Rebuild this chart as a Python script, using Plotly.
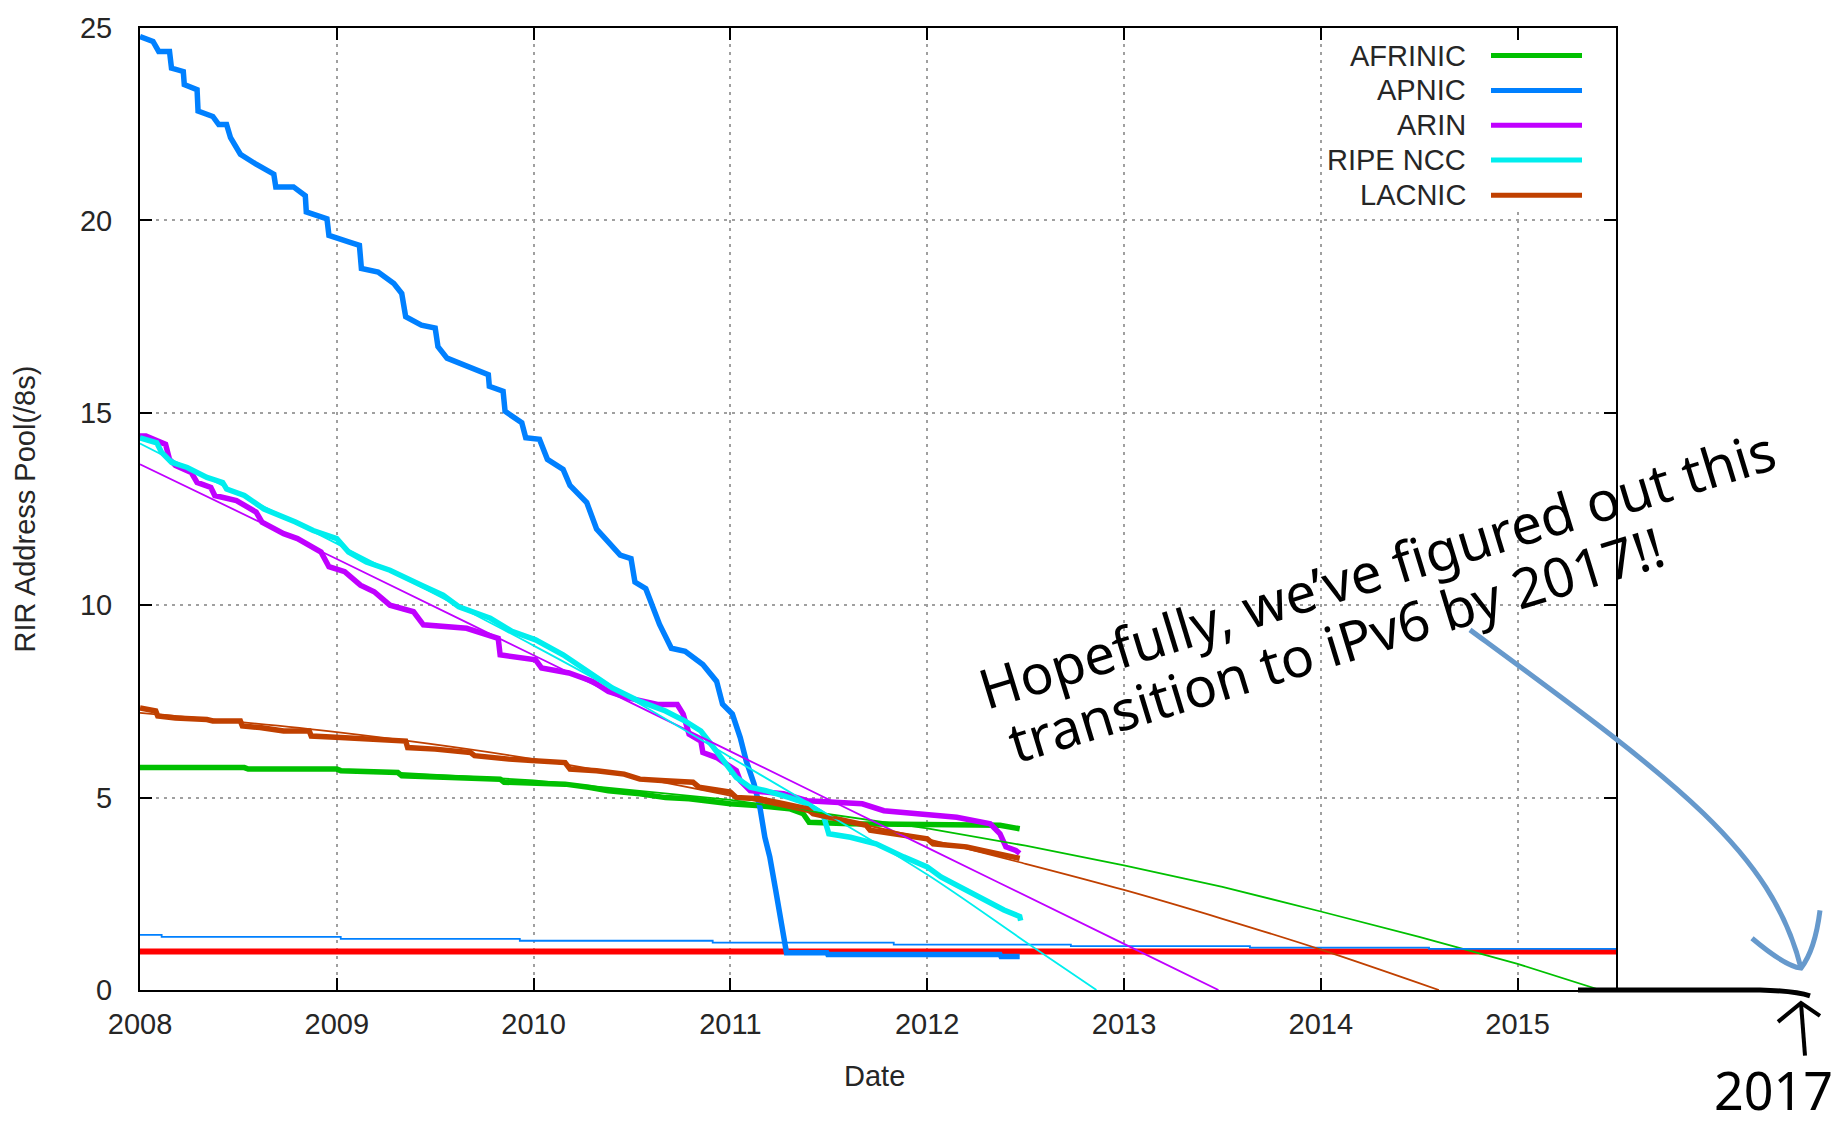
import plotly.graph_objects as go

# ---------------- data ----------------
apnic_years = [2008.0, 2008.066, 2008.095, 2008.15, 2008.16, 2008.22, 2008.225, 2008.29, 2008.295, 2008.37,
               2008.4, 2008.44, 2008.46, 2008.51, 2008.59, 2008.68, 2008.69, 2008.78, 2008.84, 2008.845,
               2008.95, 2008.96, 2009.06, 2009.115, 2009.125, 2009.21, 2009.29, 2009.33, 2009.35, 2009.43,
               2009.5, 2009.514, 2009.56, 2009.64, 2009.77, 2009.775, 2009.845, 2009.855, 2009.94, 2009.96,
               2010.03, 2010.07, 2010.15, 2010.185, 2010.27, 2010.32, 2010.38, 2010.44, 2010.495, 2010.515,
               2010.57, 2010.61, 2010.64, 2010.70, 2010.77, 2010.86, 2010.93, 2010.96, 2011.01, 2011.05,
               2011.08, 2011.12, 2011.15, 2011.175, 2011.2, 2011.23, 2011.26, 2011.28, 2011.285, 2011.49,
               2011.495, 2012.37, 2012.375, 2012.47]
apnic_vals = [24.78, 24.65, 24.39, 24.39, 23.96, 23.87, 23.53, 23.4, 22.84, 22.7,
              22.49, 22.49, 22.15, 21.72, 21.46, 21.2, 20.87, 20.87, 20.64, 20.22,
              20.04, 19.61, 19.44, 19.35, 18.75, 18.66, 18.36, 18.1, 17.5, 17.28,
              17.2, 16.72, 16.42, 16.25, 15.99, 15.69, 15.56, 15.04, 14.74, 14.35,
              14.31, 13.79, 13.53, 13.11, 12.67, 11.98, 11.64, 11.3, 11.21, 10.6,
              10.43, 9.92, 9.5, 8.88, 8.8, 8.46, 8.02, 7.43, 7.17, 6.56,
              5.96, 5.36, 4.75, 3.97, 3.46, 2.6, 1.74, 1.23, 0.97, 0.97,
              0.92, 0.92, 0.87, 0.87]

arin_years = [2008.0, 2008.03, 2008.13, 2008.15, 2008.18, 2008.26, 2008.29, 2008.36, 2008.38, 2008.49,
              2008.59, 2008.62, 2008.73, 2008.8, 2008.92, 2008.96, 2009.04, 2009.12, 2009.19, 2009.27,
              2009.39, 2009.44, 2009.66, 2009.78, 2009.82, 2009.83, 2010.01, 2010.04, 2010.18, 2010.3,
              2010.38, 2010.48, 2010.63, 2010.73, 2010.76, 2010.79, 2010.85, 2010.86, 2010.93, 2011.03,
              2011.05, 2011.1, 2011.27, 2011.39, 2011.67, 2011.78, 2011.95, 2012.15, 2012.32, 2012.37,
              2012.40, 2012.45, 2012.47]
arin_vals = [14.4, 14.4, 14.18, 13.79, 13.63, 13.45, 13.19, 13.06, 12.85, 12.72,
             12.42, 12.16, 11.86, 11.73, 11.38, 11.0, 10.87, 10.52, 10.35, 10.0,
             9.83, 9.49, 9.4, 9.23, 9.14, 8.71, 8.58, 8.37, 8.24, 8.02,
             7.76, 7.59, 7.42, 7.42, 7.17, 6.65, 6.47, 6.17, 6.04, 5.7,
             5.44, 5.18, 5.1, 4.92, 4.84, 4.66, 4.58, 4.49, 4.32, 4.06,
             3.72, 3.63, 3.55]

ripe_years = [2008.0, 2008.085, 2008.11, 2008.16, 2008.24, 2008.34, 2008.42, 2008.44, 2008.53, 2008.63,
              2008.79, 2008.88, 2009.0, 2009.06, 2009.15, 2009.27, 2009.43, 2009.54, 2009.62, 2009.78,
              2009.89, 2010.01, 2010.15, 2010.28, 2010.4, 2010.54, 2010.67, 2010.77, 2010.85, 2010.9,
              2010.98, 2011.03, 2011.1, 2011.18, 2011.30, 2011.39, 2011.47, 2011.5, 2011.61, 2011.74,
              2011.88, 2012.0, 2012.07, 2012.2, 2012.29, 2012.39, 2012.47, 2012.475]
ripe_vals = [14.35, 14.22, 13.97, 13.71, 13.58, 13.32, 13.19, 13.02, 12.85, 12.5,
             12.16, 11.94, 11.73, 11.38, 11.12, 10.91, 10.52, 10.26, 9.96, 9.66,
             9.32, 9.1, 8.71, 8.28, 7.85, 7.5, 7.25, 6.99, 6.73, 6.4,
             5.88, 5.52, 5.27, 5.18, 5.0, 4.84, 4.58, 4.06, 3.97, 3.8,
             3.46, 3.2, 2.94, 2.6, 2.34, 2.08, 1.91, 1.8]

lacnic_years = [2008.0, 2008.08, 2008.09, 2008.18, 2008.34, 2008.37, 2008.51, 2008.52, 2008.61, 2008.73,
                2008.86, 2008.87, 2009.02, 2009.21, 2009.35, 2009.36, 2009.5, 2009.68, 2009.7, 2009.875,
                2010.01, 2010.16, 2010.185, 2010.32, 2010.46, 2010.54, 2010.67, 2010.81, 2010.84, 2011.0,
                2011.03, 2011.15, 2011.27, 2011.39, 2011.42, 2011.54, 2011.69, 2011.71, 2011.88, 2012.0,
                2012.03, 2012.2, 2012.28, 2012.39, 2012.47]
lacnic_vals = [7.33, 7.25, 7.12, 7.07, 7.03, 6.99, 6.99, 6.86, 6.82, 6.73,
               6.73, 6.6, 6.56, 6.52, 6.47, 6.3, 6.26, 6.17, 6.09, 6.0,
               5.96, 5.91, 5.74, 5.7, 5.61, 5.48, 5.44, 5.4, 5.27, 5.14,
               5.0, 4.97, 4.84, 4.71, 4.58, 4.45, 4.28, 4.15, 4.02, 3.93,
               3.8, 3.72, 3.63, 3.5, 3.42]

afrinic_years = [2008.0, 2008.53, 2008.55, 2009.0, 2009.02, 2009.31, 2009.33, 2009.64, 2009.83, 2009.85,
                 2010.16, 2010.28, 2010.38, 2010.54, 2010.67, 2010.79, 2011.0, 2011.15, 2011.3, 2011.37,
                 2011.4, 2011.61, 2012.37, 2012.47]
afrinic_vals = [5.78, 5.78, 5.74, 5.74, 5.7, 5.65, 5.57, 5.52, 5.48, 5.4,
                5.35, 5.27, 5.18, 5.1, 5.0, 4.97, 4.84, 4.79, 4.71, 4.58,
                4.36, 4.32, 4.28, 4.19]

# projection (fit) lines
afrinic_fit_years = [2008, 2009, 2010, 2011, 2012, 2012.5, 2013, 2013.5, 2014, 2014.5, 2015, 2015.42]
afrinic_fit_vals = [5.8, 5.73, 5.45, 4.94, 4.2, 3.75, 3.24, 2.68, 2.04, 1.38, 0.68, 0.0]

lacnic_fit_years = [2008, 2009, 2010, 2011, 2012, 2012.5, 2013, 2013.5, 2014, 2014.6]
lacnic_fit_vals = [7.2, 6.7, 6.0, 5.05, 3.92, 3.28, 2.6, 1.85, 1.05, 0.0]

arin_fit_years = [2008, 2009, 2010, 2011, 2012, 2013, 2013.48]
arin_fit_vals = [13.66, 11.2, 8.7, 6.2, 3.7, 1.2, 0.0]

ripe_fit_years = [2008, 2009, 2010, 2010.5, 2011, 2011.5, 2012, 2012.5, 2012.86]
ripe_fit_vals = [14.2, 11.6, 8.95, 7.55, 6.05, 4.55, 3.0, 1.25, 0.0]

apnic_fit_years = [2008, 2008.11, 2009.02, 2009.93, 2010.91, 2011.83, 2012.73, 2013.64, 2014.55, 2015.5]
apnic_fit_vals = [1.43, 1.38, 1.33, 1.28, 1.23, 1.18, 1.14, 1.10, 1.07, 1.07]

threshold_years = [2008, 2015.5]
threshold_vals = [1.0, 1.0]

x_ticks = [2008, 2009, 2010, 2011, 2012, 2013, 2014, 2015]
x_tick_labels = ["2008", "2009", "2010", "2011", "2012", "2013", "2014", "2015"]
y_ticks = [0, 5, 10, 15, 20, 25]

series_names = ["AFRINIC", "APNIC", "ARIN", "RIPE NCC", "LACNIC"]
series_colors = ["#00c000", "#0080ff", "#c000ff", "#00eeee", "#c04000"]

# ---------------- figure ----------------
W, H = 1839, 1126
L, R, T, B = 140, 1616, 23, 990


def px(x):
    return (x - L) / (R - L)


def py(y):
    return (B - y) / (B - T)


fig = go.Figure()

# red threshold first (thick data and thin fits are drawn over it)
fig.add_trace(go.Scatter(x=threshold_years, y=threshold_vals, mode="lines",
                         line=dict(color="#ff0000", width=6), showlegend=False))

thick = [
    (afrinic_years, afrinic_vals, series_colors[0]),
    (apnic_years, apnic_vals, series_colors[1]),
    (arin_years, arin_vals, series_colors[2]),
    (ripe_years, ripe_vals, series_colors[3]),
    (lacnic_years, lacnic_vals, series_colors[4]),
]
for (xs, ys, c), name in zip(thick, series_names):
    fig.add_trace(go.Scatter(x=xs, y=ys, mode="lines", name=name,
                             line=dict(color=c, width=5.5), showlegend=False))

thin = [
    (afrinic_fit_years, afrinic_fit_vals, series_colors[0], "linear"),
    (apnic_fit_years, apnic_fit_vals, series_colors[1], "hv"),
    (arin_fit_years, arin_fit_vals, series_colors[2], "spline"),
    (ripe_fit_years, ripe_fit_vals, series_colors[3], "spline"),
    (lacnic_fit_years, lacnic_fit_vals, series_colors[4], "spline"),
]
for xs, ys, c, shp in thin:
    fig.add_trace(go.Scatter(x=xs, y=ys, mode="lines",
                             line=dict(color=c, width=1.8, shape=shp), showlegend=False))

tick_font = dict(family="Liberation Sans, Arial, sans-serif", size=29, color="#262626")
axis_common = dict(showline=True, linecolor="black", linewidth=2, mirror="ticks",
                   ticks="inside", ticklen=12, tickwidth=2, tickcolor="black",
                   showgrid=True, gridcolor="#a0a0a0", griddash="3px,5px", gridwidth=1.5,
                   zeroline=False, tickfont=tick_font)

fig.update_xaxes(range=[2008, 2015.5], tickvals=x_ticks, ticktext=x_tick_labels,
                 ticklabelstandoff=7, **axis_common)
fig.update_yaxes(range=[0, 25], tickvals=y_ticks, ticklabelstandoff=20, **axis_common)

shapes = []
annotations = []

# legend box (opaque key like gnuplot)
shapes.append(dict(type="rect", xref="paper", yref="paper", layer="above",
                   x0=px(1325), x1=px(1604), y0=py(208), y1=py(37),
                   fillcolor="white", line=dict(width=0)))
legend_y = [50.7, 85.7, 120.7, 155.7, 191.0]
for name, c, yy in zip(series_names, series_colors, legend_y):
    shapes.append(dict(type="line", xref="paper", yref="paper",
                       x0=px(1491), x1=px(1582), y0=py(yy), y1=py(yy),
                       line=dict(color=c, width=5)))
    annotations.append(dict(text=name, xref="paper", yref="paper", x=px(1468), y=py(yy),
                            xanchor="right", yanchor="middle", showarrow=False,
                            font=tick_font))

# axis titles
annotations.append(dict(text="Date", xref="paper", yref="paper", x=px(874), y=py(1076),
                        xanchor="center", yanchor="middle", showarrow=False, font=tick_font))
annotations.append(dict(text="RIR Address Pool(/8s)", xref="paper", yref="paper",
                        x=px(25), y=py(507), textangle=-90, xanchor="center",
                        yanchor="middle", showarrow=False, font=tick_font))

# hand-written note
hand_font = dict(family="Noto Sans, sans-serif", size=55, color="black")
annotations.append(dict(text="Hopefully, we’ve figured out this", xref="paper", yref="paper",
                        x=px(1376), y=py(566), textangle=-17, showarrow=False,
                        xanchor="center", yanchor="middle", font=hand_font))
annotations.append(dict(text="transition to iPv6 by 2017!!", xref="paper", yref="paper",
                        x=px(1336), y=py(642), textangle=-17, showarrow=False,
                        xanchor="center", yanchor="middle", font=hand_font))
annotations.append(dict(text="2017", xref="paper", yref="paper", x=px(1712), y=py(1090),
                        xanchor="left", yanchor="middle", showarrow=False,
                        font=dict(family="Noto Sans, sans-serif", size=52, color="black")))


def P(x, y):
    return f"{px(x):.5f},{py(y):.5f}"


# blue hand-drawn arrow
shapes.append(dict(type="path", xref="paper", yref="paper",
                   path=f"M {P(1470, 628)} C {P(1670, 776)} {P(1771, 848)} {P(1801, 968)}",
                   line=dict(color="#6699cc", width=5)))
shapes.append(dict(type="path", xref="paper", yref="paper",
                   path=f"M {P(1752, 938)} Q {P(1785, 966)} {P(1801, 968)} "
                        f"Q {P(1815, 950)} {P(1820, 910)}",
                   line=dict(color="#6699cc", width=5)))
# extended x axis stroke
shapes.append(dict(type="path", xref="paper", yref="paper",
                   path=f"M {P(1578, 990)} L {P(1760, 990)} Q {P(1795, 991)} {P(1810, 996)}",
                   line=dict(color="black", width=5)))
# small up arrow
shapes.append(dict(type="path", xref="paper", yref="paper",
                   path=f"M {P(1805, 1056)} L {P(1801, 1003)}",
                   line=dict(color="black", width=4)))
shapes.append(dict(type="path", xref="paper", yref="paper",
                   path=f"M {P(1778, 1022)} L {P(1801, 1003)} L {P(1820, 1016)}",
                   line=dict(color="black", width=4)))

fig.update_layout(width=W, height=H, margin=dict(l=L, r=W - R, t=T, b=H - B),
                  paper_bgcolor="white", plot_bgcolor="white",
                  shapes=shapes, annotations=annotations, showlegend=False)

fig.write_html("out.html", config={"displayModeBar": False},
               post_script="document.body.style.margin='0px';document.body.style.overflow='hidden';")
